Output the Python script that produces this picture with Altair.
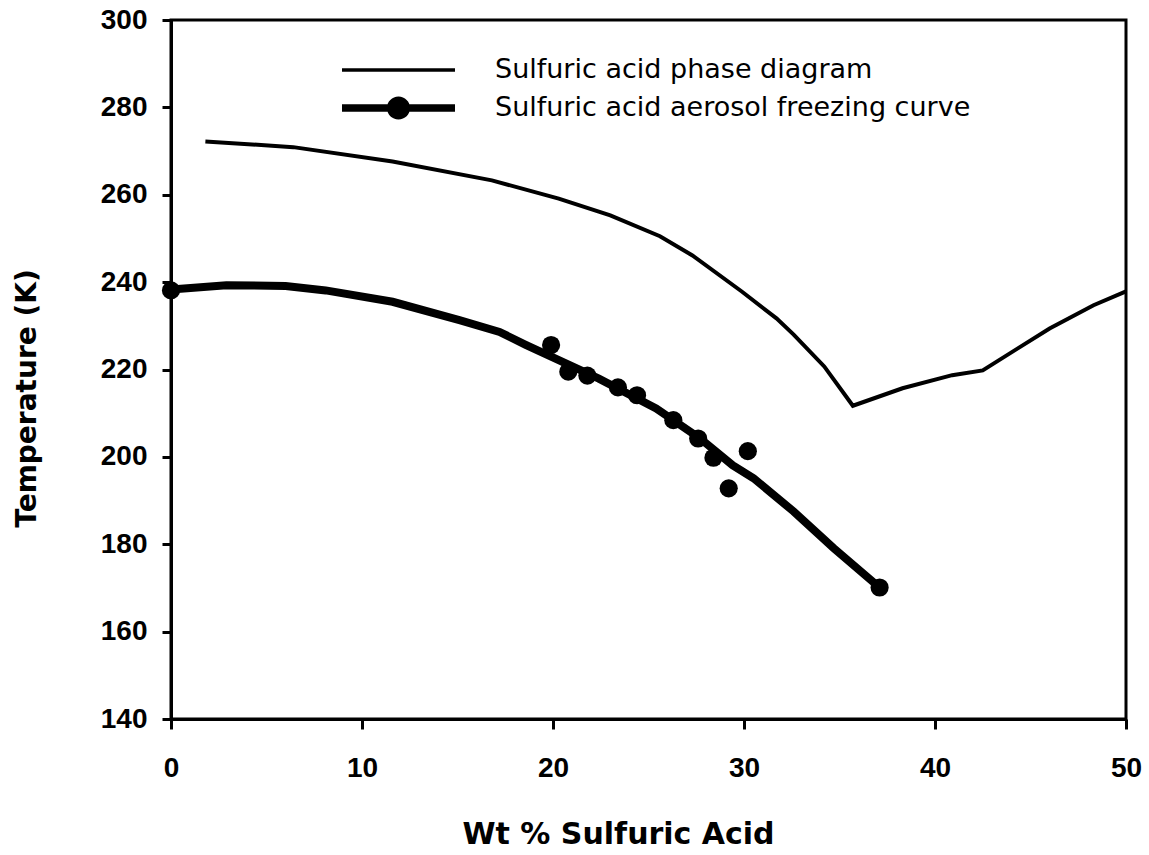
import altair as alt
import pandas as pd

# ---- data ----
phase_x = [1.8, 6.4, 11.6, 16.8, 20.3, 23.0, 25.6, 27.3, 29.9, 31.7, 32.6, 34.2, 35.7,
           38.3, 40.9, 42.5, 46.0, 48.3, 50.0]
phase_t = [272.2, 270.9, 267.6, 263.3, 259.1, 255.3, 250.5, 246.1, 237.8, 231.7, 228.0, 220.7, 211.7,
           215.7, 218.7, 219.8, 229.4, 234.7, 237.9]

curve_x = [0.0, 2.9, 6.0, 8.1, 11.6, 15.1, 17.2, 18.6, 22.4, 25.4, 27.7, 29.4, 30.5, 32.6, 34.7, 37.1]
curve_t = [238.3, 239.3, 239.1, 238.1, 235.5, 231.3, 228.6, 225.6, 217.9, 211.1, 204.2, 198.1, 195.1,
           187.5, 179.1, 170.1]

marker_x = [0.0, 19.9, 20.8, 21.8, 23.4, 24.4, 26.3, 27.6, 28.4, 29.2, 30.2, 37.1]
marker_t = [238.1, 225.6, 219.5, 218.6, 215.9, 214.1, 208.4, 204.2, 199.8, 192.8, 201.3, 170.1]

series_names = ["Sulfuric acid phase diagram", "Sulfuric acid aerosol freezing curve"]
x_ticks = [0, 10, 20, 30, 40, 50]
y_ticks = [140, 160, 180, 200, 220, 240, 260, 280, 300]

phase_df = pd.DataFrame({"x": phase_x, "t": phase_t, "series": series_names[0]})
curve_df = pd.DataFrame({"x": curve_x, "t": curve_t, "series": series_names[1]})
marker_df = pd.DataFrame({"x": marker_x, "t": marker_t, "series": series_names[1]})
legend_df = pd.concat([phase_df, curve_df], ignore_index=True)

W, H = 955, 699

x_scale = alt.Scale(domain=[0, 50], nice=False, zero=False)
y_scale = alt.Scale(domain=[140, 300], nice=False, zero=False)

x_axis = alt.Axis(
    values=x_ticks, title="Wt % Sulfuric Acid", grid=False,
    labelFont="Liberation Sans", labelFontWeight="bold", labelFontSize=28, labelColor="black",
    labelPadding=25, tickSize=10, tickWidth=3, tickColor="black",
    labelFlush=False, labelOverlap=False,
    domainColor="black", domainWidth=3,
    titleFont="DejaVu Sans", titleFontWeight="bold", titleFontSize=30, titleColor="black",
    titleX=447, titleY=124, titleBaseline="alphabetic", titleAlign="center",
)
y_axis = alt.Axis(
    values=y_ticks, title="Temperature (K)", grid=False,
    labelFont="Liberation Sans", labelFontWeight="bold", labelFontSize=28, labelColor="black",
    labelPadding=15, tickSize=9, tickWidth=3, tickColor="black",
    labelFlush=False, labelOverlap=False,
    domainColor="black", domainWidth=3,
    titleFont="DejaVu Sans", titleFontWeight="bold", titleFontSize=28, titleColor="black",
    titleX=-136, titleY=378, titleBaseline="alphabetic", titleAlign="center", titleAngle=270,
)

x_enc = alt.X("x:Q", scale=x_scale, axis=x_axis)
y_enc = alt.Y("t:Q", scale=y_scale, axis=y_axis)

phase_line = alt.Chart(phase_df).mark_line(color="black", strokeWidth=4, clip=False).encode(
    x=x_enc, y=y_enc
)
curve_line = alt.Chart(curve_df).mark_line(color="black", strokeWidth=8, clip=False).encode(
    x=alt.X("x:Q", scale=x_scale), y=alt.Y("t:Q", scale=y_scale)
)
markers = alt.Chart(marker_df).mark_point(
    filled=True, color="black", size=330, opacity=1, clip=False
).encode(x=alt.X("x:Q", scale=x_scale), y=alt.Y("t:Q", scale=y_scale))

path_thin = "M-1,-0.031L1,-0.031L1,0.031L-1,0.031Z"
path_thick = ("M-1,-0.065L1,-0.065L1,0.065L-1,0.065Z "
              "M-0.204,0A0.204,0.204 0 1,1 0.204,0A0.204,0.204 0 1,1 -0.204,0Z")

legend_carrier = alt.Chart(legend_df).mark_point(
    filled=True, color="black", opacity=0, size=1
).encode(
    x=alt.X("x:Q", scale=x_scale),
    y=alt.Y("t:Q", scale=y_scale),
    shape=alt.Shape(
        "series:N",
        scale=alt.Scale(domain=series_names, range=[path_thin, path_thick]),
        legend=alt.Legend(
            title=None, orient="none", legendX=171, legendY=31,
            symbolSize=12769, symbolOpacity=1, symbolFillColor="black",
            symbolStrokeWidth=0, clipHeight=38, rowPadding=0, padding=0,
            labelOffset=40, labelFont="DejaVu Sans", labelFontSize=27,
            labelColor="black", labelLimit=800,
        ),
    ),
)

chart = alt.layer(phase_line, curve_line, markers, legend_carrier).properties(
    width=W, height=H,
    autosize=alt.AutoSizeParams(type="none"),
    padding={"left": 171, "top": 20, "right": 1149 - 171 - W, "bottom": 855 - 20 - H},
    background="white",
).configure_view(stroke="black", strokeWidth=3)

chart.save("out.html", embed_options={"renderer": "svg", "actions": False})
